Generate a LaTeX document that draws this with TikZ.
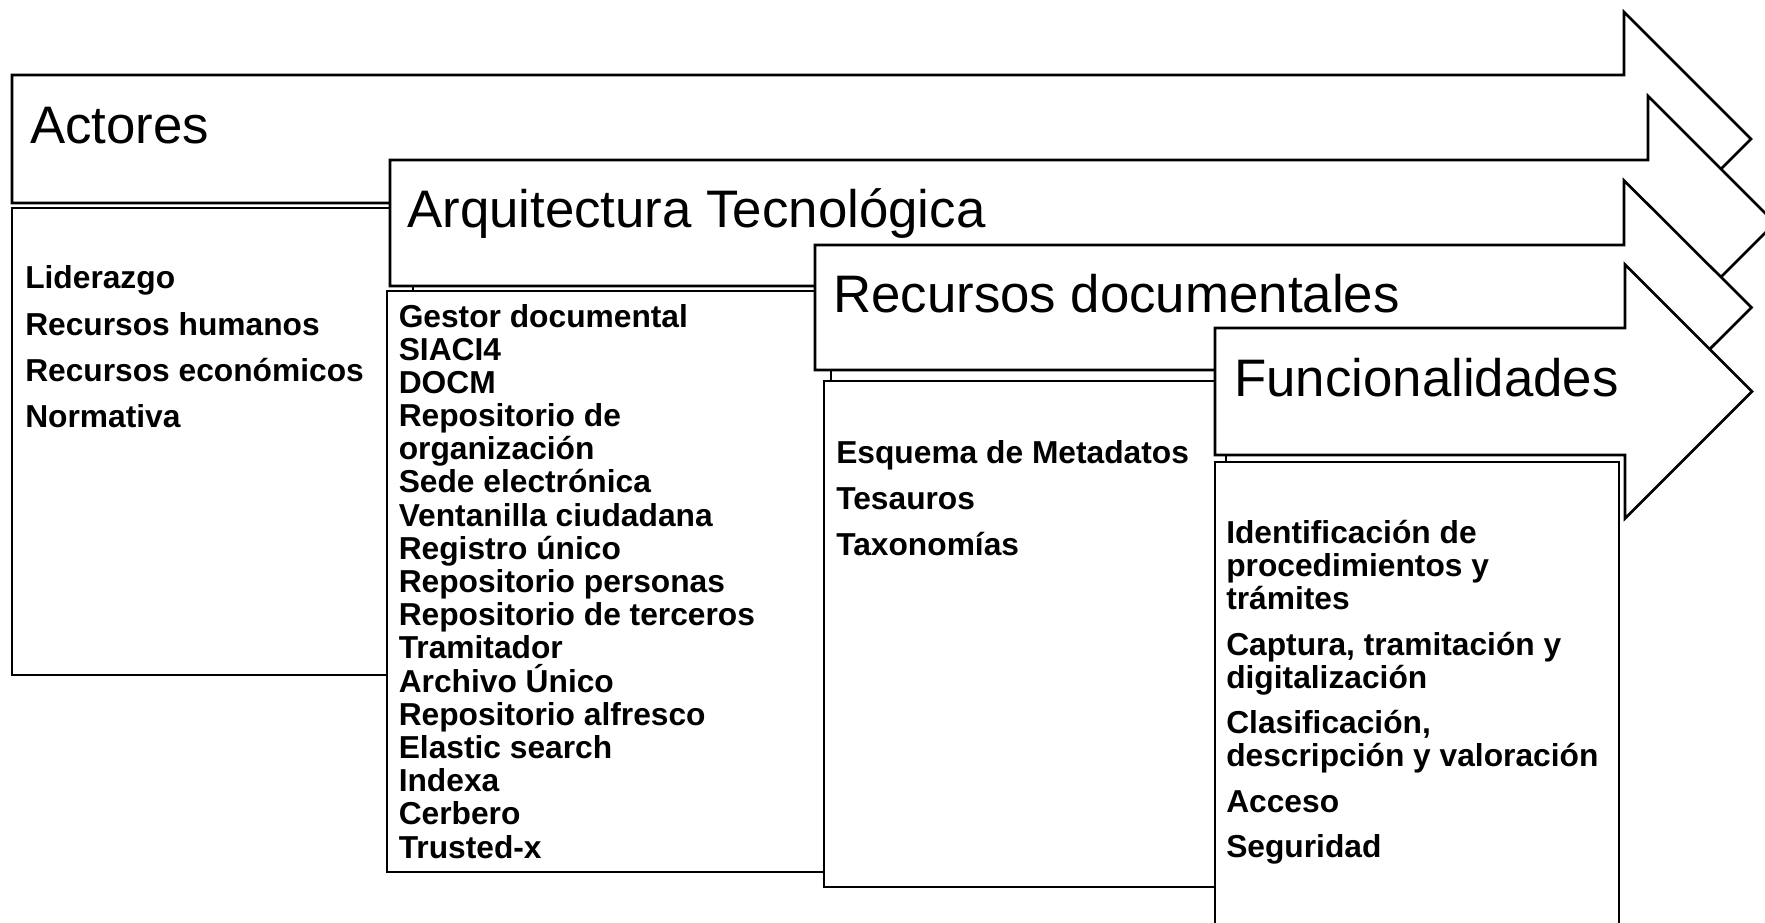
\documentclass[tikz,border=0pt]{standalone}
\usepackage{fontspec}
\setmainfont{Liberation Sans}
\begin{document}
\begin{tikzpicture}[x=0.75pt,y=-0.75pt,
  shp/.style={draw=black, fill=white, line width=2pt, line join=miter},
  hdtxt/.style={anchor=base west, inner sep=0pt, font=\fontsize{39.6}{47}\selectfont},
  bodytxt/.style={anchor=base west, inner sep=0pt, font=\fontsize{23.8}{28}\selectfont\bfseries}]
\clip (0,0) rectangle (1765,923);
\fill[white] (0,0) rectangle (1765,923);

% ---- Actores
\draw[shp] (12,75) -- (1624,75) -- (1624,12) -- (1751,139) -- (1624,266) -- (1624,203) -- (12,203) -- cycle;
\node[hdtxt] (h1) at (30,144) {Actores};
\draw[shp] (12,208) rectangle (413,675);
\foreach \t [count=\i] in {Liderazgo, Recursos humanos, Recursos económicos, Normativa}
  \node[bodytxt] (act\i) at (25,{289+46*(\i-1)}) {\t};

% ---- Arquitectura Tecnologica
\draw[shp] (390,160) -- (1648,160) -- (1648,96) -- (1775,223) -- (1648,350) -- (1648,286) -- (390,286) -- cycle;
\node[hdtxt] (h2) at (407,228) {Arquitectura Tecnológica};
\draw[shp] (387,291) rectangle (831,872);
\foreach \t [count=\i] in {Gestor documental, SIACI4, DOCM, Repositorio de, organización, Sede electrónica, Ventanilla ciudadana, Registro único, Repositorio personas, Repositorio de terceros, Tramitador, Archivo Único, Repositorio alfresco, Elastic search, Indexa, Cerbero, Trusted-x}
  \node[bodytxt] (arq\i) at (398.5,{327+33.19*(\i-1)}) {\t};

% ---- Recursos documentales
\draw[shp] (815,245) -- (1624,245) -- (1624,180.5) -- (1751.5,307.5) -- (1624,434.5) -- (1624,370) -- (815,370) -- cycle;
\node[hdtxt] (h3) at (833,312.5) {Recursos documentales};
\draw[shp] (824,381) rectangle (1226,887);
\foreach \t [count=\i] in {Esquema de Metadatos, Tesauros, Taxonomías}
  \node[bodytxt] (rec\i) at (836,{463+46*(\i-1)}) {\t};

% ---- Funcionalidades
\draw[shp] (1215,328) -- (1625,328) -- (1625,264.5) -- (1752,391.5) -- (1625,518.5) -- (1625,455) -- (1215,455) -- cycle;
\node[hdtxt] (h4) at (1234,396.5) {Funcionalidades};
\draw[shp] (1215,462) rectangle (1619,960);
\node[bodytxt] (fun1) at (1226,543) {Identificación de};
\node[bodytxt] (fun2) at (1226,576) {procedimientos y};
\node[bodytxt] (fun3) at (1226,609) {trámites};
\node[bodytxt] (fun4) at (1226,655) {Captura, tramitación y};
\node[bodytxt] (fun5) at (1226,688) {digitalización};
\node[bodytxt] (fun6) at (1226,733) {Clasificación,};
\node[bodytxt] (fun7) at (1226,766) {descripción y valoración};
\node[bodytxt] (fun8) at (1226,812) {Acceso};
\node[bodytxt] (fun9) at (1226,857) {Seguridad};
\end{tikzpicture}
\end{document}
